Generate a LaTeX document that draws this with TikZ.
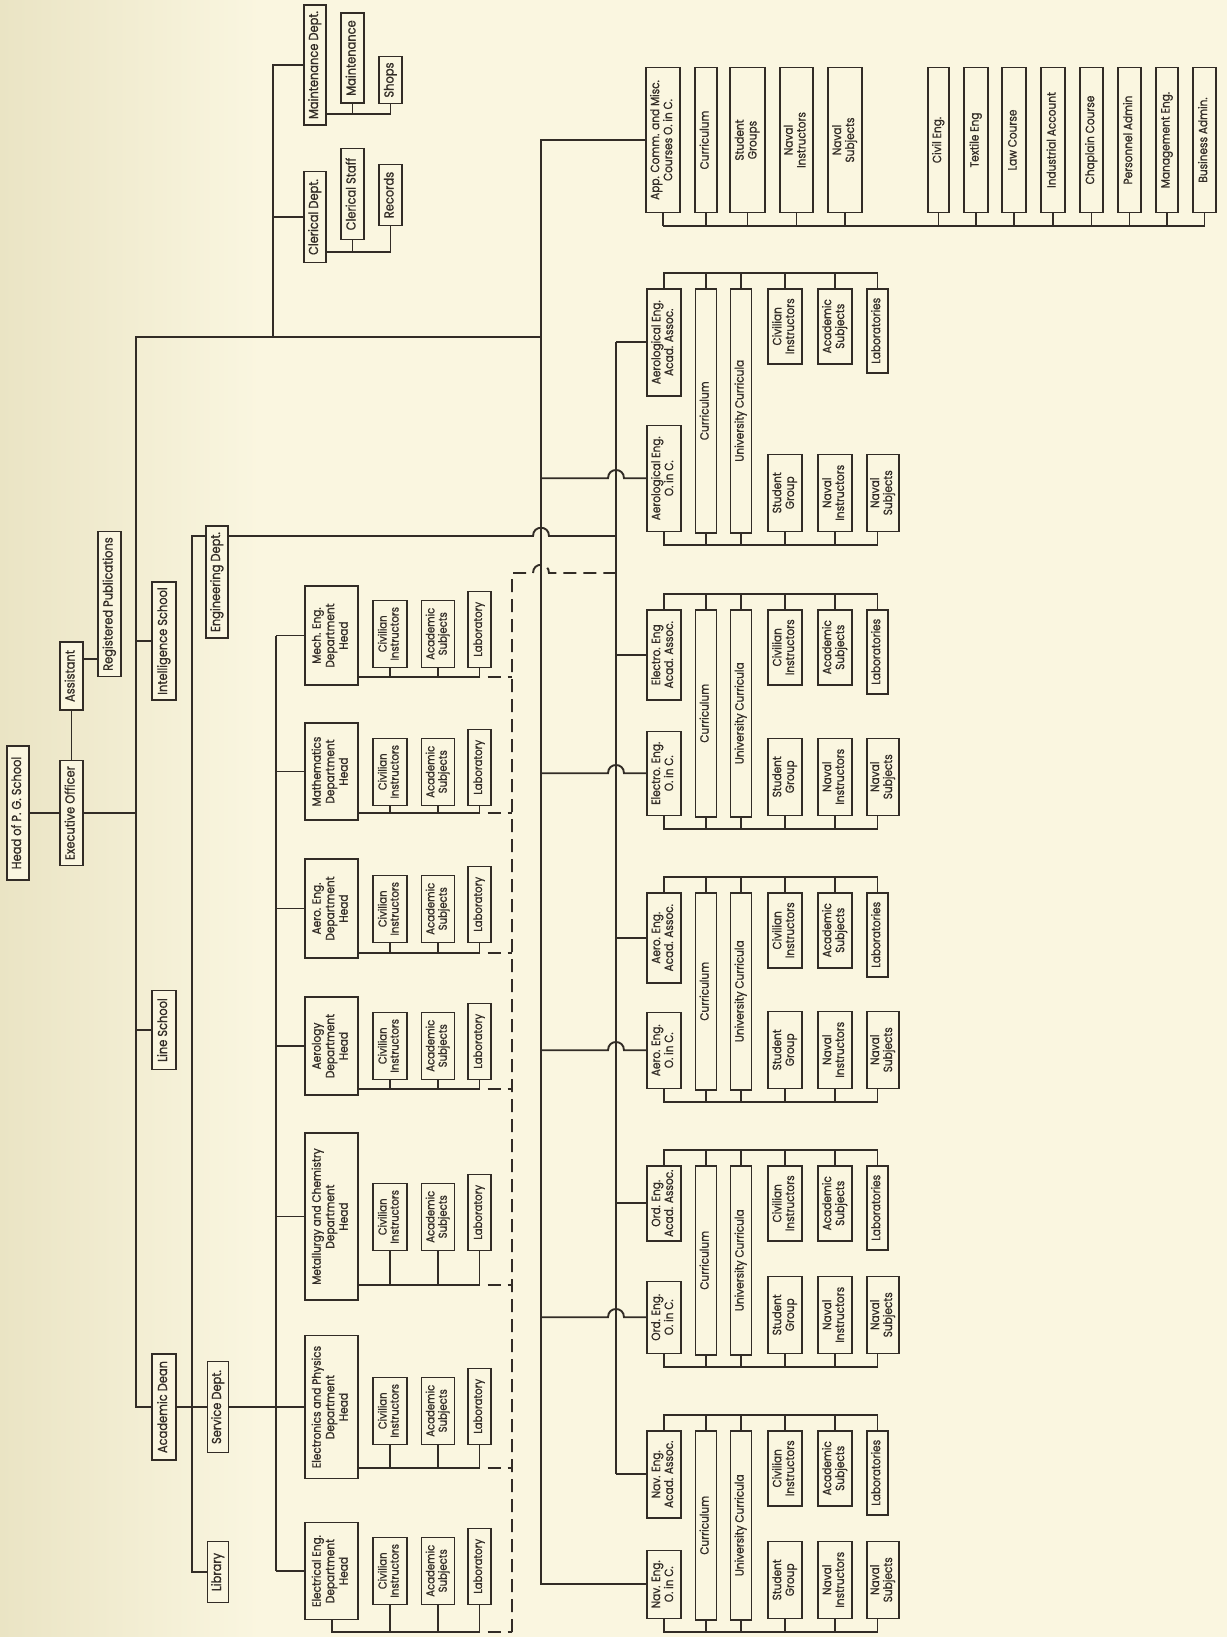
\documentclass[tikz,border=0pt]{standalone}
\usepackage{fontspec}
\setmainfont{Poppins}[FakeStretch=0.88, FakeBold=1]
\usepackage{graphicx}
\usetikzlibrary{positioning,calc}

\definecolor{paper}{RGB}{250,246,224}
\definecolor{paperdark}{RGB}{234,228,196}
\definecolor{ink}{RGB}{50,44,38}

\newcommand{\rt}[1]{\rotatebox{90}{\begin{tabular}{@{}c@{}}#1\end{tabular}}}
\newcommand{\hop}[1]{-- ($(#1)+(-8,0)$) .. controls ($(#1)+(-8,-11)$) and ($(#1)+(8,-11)$) .. ($(#1)+(8,0)$)}

\begin{document}
\begin{tikzpicture}[
    x=1pt, y=-1pt,
    box/.style 2 args={draw=ink, line width=1.5pt, fill=paper, text=ink, inner sep=0pt, minimum height=#1pt, minimum width=#2pt},
    big/.style={font=\fontsize{13}{15}\selectfont},
    dhead/.style={font=\fontsize{12}{13.5}\selectfont},
    ghead/.style={font=\fontsize{12}{12.8}\selectfont},
    sub/.style={font=\fontsize{11.5}{12}\selectfont},
    gsub/.style={font=\fontsize{12}{12.8}\selectfont},
    link/.style={draw=ink, line width=1.9pt},
    dlink/.style={link, dash pattern=on 13pt off 7pt},
]
    \fill[paper] (0,0) rectangle (1227,1637);
    \shade[left color=paperdark, right color=paper] (0,0) rectangle (260,1637);
    \useasboundingbox (0,0) rectangle (1227,1637);

    % administration
    \node[box={134}{22}, big] (head) at (18,813) {\rt{Head of P. G. School}};
    \node[box={105}{23}, big] (exec) at (71.5,813) {\rt{Executive Officer}};
    \node[box={68}{23}, big] (asst) at (71.5,676) {\rt{Assistant}};
    \node[box={145}{23}, big] (regpub) at (109.5,604) {\rt{Registered Publications}};
    \node[box={118}{24}, big] (intel) at (164,641) {\rt{Intelligence School}};
    \node[box={79}{24}, big] (lines) at (164,1030) {\rt{Line School}};
    \node[box={106}{24}, big] (dean) at (164,1407) {\rt{Academic Dean}};
    \node[box={112}{22}, big] (eng) at (217,582) {\rt{Engineering Dept.}};
    \node[box={91}{21}, big] (service) at (218,1407) {\rt{Service Dept.}};
    \node[box={61}{21}, big] (library) at (218,1572) {\rt{Library}};
    \node[box={91}{22}, big] (clerical) at (315,217) {\rt{Clerical Dept.}};
    \node[box={91}{23}, big] (clstaff) at (352.5,194) {\rt{Clerical Staff}};
    \node[box={61}{23}, big] (records) at (390.5,195) {\rt{Records}};
    \node[box={120}{22}, big] (maintdept) at (315,65) {\rt{Maintenance Dept.}};
    \node[box={90}{23}, big] (maint) at (352.5,58) {\rt{Maintenance}};
    \node[box={47}{23}, big] (shops) at (390.5,80) {\rt{Shops}};

    % department heads
    \node[box={99}{53}, dhead] (mech) at (331.5,635.5) {\rt{Mech. Eng.\\Department\\Head}};
    \node[box={97}{53}, dhead] (math) at (331.5,771.5) {\rt{Mathematics\\Department\\Head}};
    \node[box={99}{53}, dhead] (aeroh) at (331.5,908.5) {\rt{Aero. Eng.\\Department\\Head}};
    \node[box={98}{53}, dhead] (aerol) at (331.5,1046) {\rt{Aerology\\Department\\Head}};
    \node[box={167}{53}, dhead] (metal) at (331.5,1216.5) {\rt{Metallurgy and Chemistry\\Department\\Head}};
    \node[box={143}{53}, dhead] (elph) at (331.5,1407) {\rt{Electronics and Physics\\Department\\Head}};
    \node[box={97}{53}, dhead] (eleng) at (331.5,1571) {\rt{Electrical Eng.\\Department\\Head}};

    % spines
    \coordinate (top) at (136,337);
    \coordinate (spA) at (541,0);
    \coordinate (spB) at (616,0);
    \coordinate (cspine) at (273,0);
    \coordinate (lspine) at (192,536);
    \coordinate (dspine) at (276,0);
    \coordinate (dsp) at (512,573);

    \foreach \dep/\yb/\yr in {mech/668/677, math/806/813, aeroh/943/953, aerol/1080/1089,
                              metal/1251/1285, elph/1445/1468, eleng/1605/1632} {
        \node[box={67}{34}, sub, anchor=south] (\dep-civ) at (390,\yb) {\rt{Civilian\\Instructors}};
        \node[box={67}{33}, sub, anchor=south] (\dep-acs) at (438,\yb) {\rt{Academic\\Subjects}};
        \node[box={76}{23}, sub, anchor=south] (\dep-lab) at (479.5,\yb) {\rt{Laboratory}};
        \coordinate (\dep-bar) at (0,\yr);
        \draw[link] (\dep-civ.south) -- (\dep-civ.south |- \dep-bar);
        \draw[link] (\dep-acs.south) -- (\dep-acs.south |- \dep-bar);
        \draw[link] (\dep-lab.south) -- (\dep-lab.south |- \dep-bar) -- (\dep-civ.south |- \dep-bar);
        \draw[dlink] ($(\dep-lab.south |- \dep-bar)+(8,0)$) -- (dsp |- \dep-bar);
    }

    % application courses
    \node[box={145}{34}, ghead] (appcomm) at (663,140) {\rt{App. Comm. and Misc.\\Courses O. in C.}};
    \node[box={145}{22}, gsub] (curr0) at (706,140) {\rt{Curriculum}};
    \node[box={145}{35}, gsub] (stgr) at (747.5,140) {\rt{Student\\Groups}};
    \node[box={145}{33}, gsub] (nins0) at (796.5,140) {\rt{Naval\\Instructors}};
    \node[box={145}{34}, gsub] (nsub0) at (845,140) {\rt{Naval\\Subjects}};
    \node[box={145}{21}, gsub] (civil) at (938.5,140) {\rt{Civil Eng.}};
    \node[box={145}{24}, gsub] (textile) at (976,140) {\rt{Textile Eng}};
    \node[box={145}{24}, gsub] (law) at (1014,140) {\rt{Law Course}};
    \node[box={145}{24}, gsub] (indacc) at (1053,140) {\rt{Industrial Account}};
    \node[box={145}{23}, gsub] (chap) at (1091.5,140) {\rt{Chaplain Course}};
    \node[box={145}{23}, gsub] (pers) at (1129.5,140) {\rt{Personnel Admin}};
    \node[box={145}{22}, gsub] (mgmt) at (1167,140) {\rt{Management Eng.}};
    \node[box={145}{23}, gsub] (busadm) at (1204.5,140) {\rt{Business Admin.}};

    % engineering groups
    \node[box={107}{34}, ghead, anchor=north] (aa1) at (664,288) {\rt{Aerological Eng.\\Acad. Assoc.}};
    \node[box={106}{34}, ghead, anchor=south] (oc1) at (664,532) {\rt{Aerological Eng.\\O. in C.}};
    \node[box={90}{34}, ghead, anchor=north] (aa2) at (664,609) {\rt{Electro. Eng\\Acad. Assoc.}};
    \node[box={84}{34}, ghead, anchor=south] (oc2) at (664,816) {\rt{Electro. Eng.\\O. in C.}};
    \node[box={90}{34}, ghead, anchor=north] (aa3) at (664,892) {\rt{Aero. Eng.\\Acad. Assoc.}};
    \node[box={76}{34}, ghead, anchor=south] (oc3) at (664,1089) {\rt{Aero. Eng.\\O. in C.}};
    \node[box={75}{34}, ghead, anchor=north] (aa4) at (664,1165) {\rt{Ord. Eng.\\Acad. Assoc.}};
    \node[box={72}{34}, ghead, anchor=south] (oc4) at (664,1354) {\rt{Ord. Eng.\\O. in C.}};
    \node[box={87}{34}, ghead, anchor=north] (aa5) at (664,1430) {\rt{Nav. Eng.\\Acad. Assoc.}};
    \node[box={68}{34}, ghead, anchor=south] (oc5) at (664,1619) {\rt{Nav. Eng.\\O. in C.}};

    \foreach \i/\ya/\yb in {1/288/532, 2/609/816, 3/892/1089, 4/1165/1354, 5/1430/1619} {
        \pgfmathsetmacro{\len}{\yb-\ya}
        \node[box={\len}{21}, gsub, anchor=north] (cur\i) at (706,\ya) {\rt{Curriculum}};
        \node[box={\len}{21}, gsub, anchor=north] (uni\i) at (741,\ya) {\rt{University Curricula}};
        \node[box={75}{34}, gsub, anchor=north] (civ\i) at (785,\ya) {\rt{Civilian\\Instructors}};
        \node[box={75}{34}, gsub, anchor=north] (acs\i) at (835,\ya) {\rt{Academic\\Subjects}};
        \node[box={84}{21}, gsub, anchor=north] (lab\i) at (877.5,\ya) {\rt{Laboratories}};
        \node[box={77}{34}, gsub, anchor=south] (stu\i) at (785,\yb) {\rt{Student\\Group}};
        \node[box={77}{34}, gsub, anchor=south] (nin\i) at (835,\yb) {\rt{Naval\\Instructors}};
        \node[box={77}{32}, gsub, anchor=south] (nsu\i) at (883,\yb) {\rt{Naval\\Subjects}};
        \coordinate (tb\i) at ($(aa\i.north)+(0,-15)$);
        \coordinate (bb\i) at ($(oc\i.south)+(0,13)$);
        \draw[link] (aa\i.north) -- (tb\i) -- (lab\i.north |- tb\i) -- (lab\i.north);
        \foreach \n in {cur,uni,civ,acs}
            \draw[link] (\n\i.north) -- (\n\i.north |- tb\i);
        \draw[link] (oc\i.south) -- (bb\i) -- (lab\i.south |- bb\i) -- (lab\i.south |- nsu\i.south);
        \foreach \n in {cur,uni,stu,nin}
            \draw[link] (\n\i.south) -- (\n\i.south |- bb\i);
    }

    % connectors
    \draw[link] (head) -- (exec);
    \draw[link] (exec) -- (asst);
    \coordinate (rp) at (0,659);
    \draw[link] (asst.east |- rp) -- (regpub.west |- rp);
    \draw[link] (exec) -- (exec -| top);
    \draw[link] (top -| spA) -- (top) -- (dean.west -| top) -- (dean.west);
    \draw[link] (intel.west -| top) -- (intel.west);
    \draw[link] (lines.west -| top) -- (lines.west);
    \draw[link] (maintdept.west) -| (top -| cspine);
    \draw[link] (clerical.west -| cspine) -- (clerical.west);
    \coordinate (mbar) at (0,114);
    \coordinate (cbar) at (0,252);
    \draw[link] (maintdept.east |- mbar) -| (shops.south);
    \draw[link] (maint.south) -- (maint.south |- mbar);
    \draw[link] (clerical.east |- cbar) -| (records.south);
    \draw[link] (clstaff.south) -- (clstaff.south |- cbar);

    \draw[link] (dean) -- (service);
    \draw[link] (eng.west |- lspine) -- (lspine) |- (library.west);
    \draw[link] (eng.east |- lspine) \hop{spA |- lspine} -- (spB |- lspine);

    \draw[link] (service) -- (elph);
    \draw[link] (mech.west -| dspine) -- (eleng.west -| dspine);
    \foreach \dep in {mech,math,aeroh,aerol,metal,eleng}
        \draw[link] (\dep.west -| dspine) -- (\dep.west);
    \foreach \dep in {mech,math,aeroh,aerol,metal,elph}
        \draw[link] (\dep.east |- \dep-bar) -- (\dep-civ.south |- \dep-bar);
    \draw[link] ($(eleng.south west)+(28,0)$) |- (eleng-civ.south |- eleng-bar);
    \draw[dlink] (dsp |- eleng-bar) -- (dsp) \hop{spA |- dsp} -- (spB |- dsp);

    \draw[link] (appcomm.west) -- (appcomm.west -| spA) -- (oc5.west -| spA) -- (oc5.west);
    \coordinate (abar) at (0,226);
    \draw[link] (appcomm.south |- abar) -- (busadm.south |- abar);
    \foreach \n in {appcomm,curr0,stgr,nins0,nsub0,civil,textile,law,indacc,chap,pers,mgmt,busadm}
        \draw[link] (\n.south) -- (\n.south |- abar);

    \draw[link] (aa1.west -| spB) -- (aa5.west -| spB);
    \foreach \i in {1,...,5}
        \draw[link] (aa\i.west -| spB) -- (aa\i.west);
    \foreach \i in {1,...,4}
        \draw[link] (oc\i.west -| spA) \hop{oc\i.west -| spB} -- (oc\i.west);
\end{tikzpicture}
\end{document}
